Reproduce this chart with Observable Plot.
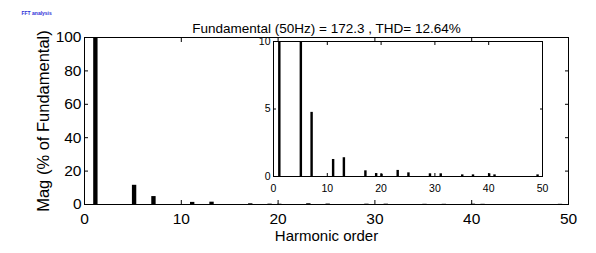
<!DOCTYPE html>
<html><head><meta charset="utf-8">
<script src="https://cdn.jsdelivr.net/npm/d3@7"></script>
<script src="https://cdn.jsdelivr.net/npm/@observablehq/plot@0.6"></script>
<style>
body{margin:0;background:#fff;}
#chart{position:relative;width:596px;height:253px;}
#inset{position:absolute;left:253px;top:33px;}
svg{display:block;}
</style></head><body><div id="chart"><div id="main"></div><div id="inset"></div></div>
<script>
// Data
const harmonics  = [1, 5, 7, 11, 13, 17, 19, 20, 23, 25, 29, 31, 35, 37, 40, 41, 49];
const magnitudes = [100, 11.5, 4.75, 1.26, 1.39, 0.42, 0.22, 0.17, 0.45, 0.27, 0.2, 0.2, 0.12, 0.12, 0.2, 0.12, 0.12];
const titleText = "Fundamental (50Hz) = 172.3 , THD= 12.64%";
const xLabel = "Harmonic order";
const yLabel = "Mag (% of Fundamental)";
const cornerLabel = "FFT analysis";
const mainXTicks = [0, 10, 20, 30, 40, 50];
const mainYTicks = [0, 20, 40, 60, 80, 100];
const insetXTicks = [0, 10, 20, 30, 40, 50];
const insetYTicks = [0, 5, 10];

const data = harmonics.map((h, i) => ({h, v: magnitudes[i]}));
const font = '"Liberation Sans", Arial, Helvetica, sans-serif';
const blank = () => "";

const main = Plot.plot({
  width: 596, height: 253,
  marginLeft: 84, marginRight: 28, marginTop: 37, marginBottom: 49,
  style: {fontFamily: font, background: "white", color: "black", overflow: "visible"},
  x: {domain: [0, 50]},
  y: {domain: [0, 100]},
  marks: [
    Plot.rect(data, {x1: d => d.h - 0.05, x2: d => d.h + 0.4, y1: 0, y2: "v", fill: "black"}),
    Plot.frame({stroke: "black"}),
    Plot.axisX({ticks: mainXTicks, tickSize: 0, tickPadding: 8, fontSize: 15.5, label: null}),
    Plot.axisX({ticks: mainXTicks, tickSize: -4, tickFormat: blank, label: null}),
    Plot.axisX({ticks: mainXTicks, anchor: "top", tickSize: -4, tickFormat: blank, label: null}),
    Plot.axisY({ticks: mainYTicks, tickSize: 0, tickPadding: 3, fontSize: 15.5, label: null}),
    Plot.axisY({ticks: mainYTicks, tickSize: -4, tickFormat: blank, label: null}),
    Plot.axisY({ticks: mainYTicks, anchor: "right", tickSize: -4, tickFormat: blank, label: null}),
    Plot.text([titleText], {text: d => d, frameAnchor: "top", textAnchor: "middle", dy: -14, fontSize: 13.5}),
    Plot.text([xLabel], {text: d => d, frameAnchor: "bottom", textAnchor: "middle", dy: 36, fontSize: 15}),
    Plot.text([yLabel], {text: d => d, frameAnchor: "left", textAnchor: "middle", dx: -41, rotate: -90, fontSize: 16.5}),
    Plot.text([cornerLabel], {text: d => d, frameAnchor: "top-left", textAnchor: "start", dx: -63, dy: -26, fontSize: 5, fill: "#2f2fd8", fontWeight: "bold"})
  ]
});
document.getElementById("main").append(main);

const inset = Plot.plot({
  width: 299, height: 163,
  marginLeft: 20, marginRight: 10, marginTop: 8, marginBottom: 20,
  style: {fontFamily: font, background: "transparent", color: "black", overflow: "visible"},
  x: {domain: [0, 50]},
  y: {domain: [0, 10]},
  marks: [
    Plot.frame({fill: "white"}),
    Plot.ruleY([0], {stroke: "black", strokeDasharray: "2.5,2.9"}),
    Plot.rect(data, {x1: d => d.h - 0.05, x2: d => d.h + 0.4, y1: 0, y2: "v", fill: "black", clip: true}),
    Plot.frame({stroke: "black"}),
    Plot.axisX({ticks: insetXTicks, tickSize: 0, tickPadding: 8.5, fontSize: 10.5, label: null}),
    Plot.axisX({ticks: insetXTicks, tickSize: -3, tickFormat: blank, label: null}),
    Plot.axisX({ticks: insetXTicks, anchor: "top", tickSize: -3, tickFormat: blank, label: null}),
    Plot.axisY({ticks: insetYTicks, tickSize: 0, tickPadding: 3, fontSize: 10.5, label: null}),
    Plot.axisY({ticks: insetYTicks, tickSize: -3, tickFormat: blank, label: null}),
    Plot.axisY({ticks: insetYTicks, anchor: "right", tickSize: -3, tickFormat: blank, label: null})
  ]
});
document.getElementById("inset").append(inset);
</script></body></html>
